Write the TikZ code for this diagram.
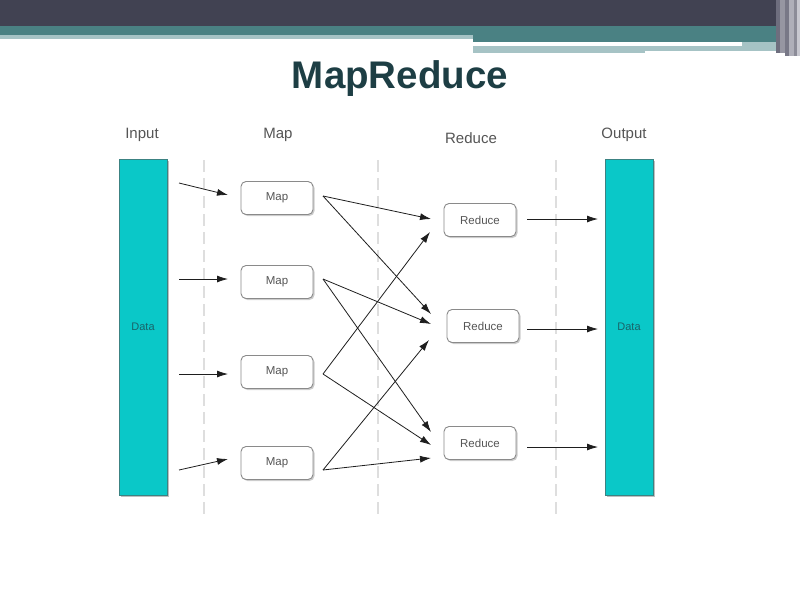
\documentclass[tikz,border=0pt]{standalone}
\usepackage{fontspec}
\setmainfont{Liberation Sans}
\usetikzlibrary{arrows.meta,shadows,calc}
\definecolor{darkbar}{RGB}{65,66,82}
\definecolor{tealbar}{RGB}{74,129,131}
\definecolor{lightteal}{RGB}{166,195,197}
\definecolor{cyanbar}{RGB}{10,200,200}
\definecolor{cyanedge}{RGB}{60,130,130}
\definecolor{titlecol}{RGB}{29,62,68}
\definecolor{headcol}{RGB}{85,85,85}
\definecolor{boxedge}{RGB}{138,138,138}
\definecolor{arrcol}{RGB}{30,30,30}
\definecolor{sepcol}{RGB}{222,222,222}
\definecolor{datacol}{RGB}{25,100,105}
\definecolor{strA}{RGB}{110,110,126}
\definecolor{strB}{RGB}{150,150,162}
\definecolor{strC}{RGB}{120,120,135}
\definecolor{strD}{RGB}{175,175,185}
\definecolor{strE}{RGB}{140,140,152}
\definecolor{strF}{RGB}{200,200,208}
\tikzset{
  procbox/.style={draw=boxedge, fill=white, rounded corners=5pt, line width=0.9pt,
    minimum width=72pt, minimum height=33pt, inner sep=0pt,
    font=\fontsize{11.5}{13}\selectfont, text=headcol,
    drop shadow={shadow xshift=1.5pt, shadow yshift=-1.5pt, opacity=0.2, fill=black}},
  databar/.style={draw=cyanedge, fill=cyanbar, line width=0.6pt,
    minimum width=48pt, minimum height=336pt, inner sep=0pt,
    font=\fontsize{11}{12}\selectfont, text=datacol,
    drop shadow={shadow xshift=1.5pt, shadow yshift=-1.5pt, opacity=0.25, fill=black}},
  header/.style={font=\fontsize{15}{17}\selectfont, text=headcol, inner sep=0pt},
  arr/.style={draw=arrcol, line width=0.8pt, -{Latex[length=11pt,width=7pt]}},
  sepline/.style={draw=sepcol, line width=1.8pt, dash pattern=on 12pt off 6pt},
}
\begin{document}
\begin{tikzpicture}[x=1pt,y=-1pt]
\useasboundingbox (0,0) rectangle (800,600);
% top banner
\fill[white] (0,0) rectangle (800,600);
\fill[darkbar] (0,0) rectangle (800,26);
\fill[tealbar] (0,26) rectangle (800,36);
\fill[lightteal] (0,35) rectangle (473,39);
\fill[tealbar] (473,26) rectangle (800,42);
\fill[lightteal] (473,46) rectangle (645,53);
\fill[lightteal] (645,46) rectangle (785,51);
\fill[lightteal] (742,42) rectangle (785,51);
\fill[white] (473,42) rectangle (742,46);
\fill[strA] (776,0) rectangle (780,53);
\fill[strB] (780,0) rectangle (785,53);
\fill[strC] (785,0) rectangle (789,56);
\fill[strD] (789,0) rectangle (794,56);
\fill[strE] (794,0) rectangle (797,56);
\fill[strF] (797,0) rectangle (800,56);
% title
\node[anchor=base, text=titlecol, font=\fontsize{38.5}{40}\selectfont\bfseries, inner sep=0pt] (title) at (400,88) {MapReduce};
% headers
\node[header] (hin) at (142,135) {Input};
\node[header] (hmap) at (278,135) {Map};
\node[header] (hred) at (471,138) {Reduce};
\node[header] (hout) at (624,135) {Output};
% separators
\draw[sepline] (204,160) -- (204,514);
\draw[sepline] (378,160) -- (378,514);
\draw[sepline] (556,160) -- (556,514);
% data bars
\node[databar] (in) at (143,327) {Data};
\node[databar] (out) at (629,327) {Data};
% map boxes
\node[procbox] (m1) at (277,198) {Map};
\node[procbox] (m2) at (277,282) {Map};
\node[procbox] (m3) at (277,372) {Map};
\node[procbox] (m4) at (277,463) {Map};
% reduce boxes
\node[procbox] (r1) at (480,220) {Reduce};
\node[procbox] (r2) at (483,326) {Reduce};
\node[procbox] (r3) at (480,443) {Reduce};
% connector end points
\coordinate (i1) at (179,183); \coordinate (m1in) at (228,195);
\coordinate (i2) at (179,279); \coordinate (m2in) at (228,279);
\coordinate (i3) at (179,374); \coordinate (m3in) at (228,374);
\coordinate (i4) at (179,470); \coordinate (m4in) at (228,459);
\coordinate (m1o) at (323,196);
\coordinate (m2o) at (323,279);
\coordinate (m3o) at (323,374);
\coordinate (m4o) at (323,470);
\coordinate (r1a) at (431,219); \coordinate (r1b) at (430,232);
\coordinate (r2a) at (431,314); \coordinate (r2b) at (431,324); \coordinate (r2c) at (429,340);
\coordinate (r3a) at (431,432); \coordinate (r3b) at (431,445); \coordinate (r3c) at (431,458);
\coordinate (r1o) at (527,219); \coordinate (o1) at (598,219);
\coordinate (r2o) at (527,329); \coordinate (o2) at (598,329);
\coordinate (r3o) at (527,447); \coordinate (o3) at (598,447);
% input -> map
\draw[arr] (i1) -- (m1in);
\draw[arr] (i2) -- (m2in);
\draw[arr] (i3) -- (m3in);
\draw[arr] (i4) -- (m4in);
% map -> reduce
\draw[arr] (m1o) -- (r1a);
\draw[arr] (m1o) -- (r2a);
\draw[arr] (m2o) -- (r2b);
\draw[arr] (m2o) -- (r3a);
\draw[arr] (m3o) -- (r1b);
\draw[arr] (m3o) -- (r3b);
\draw[arr] (m4o) -- (r2c);
\draw[arr] (m4o) -- (r3c);
% reduce -> output
\draw[arr] (r1o) -- (o1);
\draw[arr] (r2o) -- (o2);
\draw[arr] (r3o) -- (o3);
\end{tikzpicture}
\end{document}
